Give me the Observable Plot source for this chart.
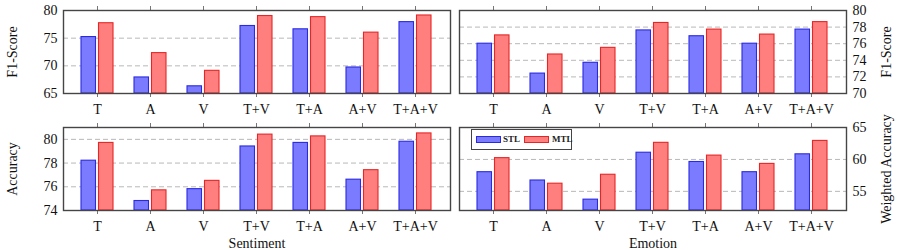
<!DOCTYPE html>
<html>
<head>
<meta charset="utf-8">
<script src="https://cdn.jsdelivr.net/npm/d3@7"></script>
<script src="https://cdn.jsdelivr.net/npm/@observablehq/plot@0.6"></script>
<style>
  html, body { margin: 0; padding: 0; background: #fff; }
  #wrap { position: relative; width: 899px; height: 250px; font-family: "Liberation Serif", "DejaVu Serif", serif; }
  #wrap svg { position: absolute; background: transparent !important; overflow: visible; }
  .legend { position: absolute; left: 471px; top: 129px; width: 101px; height: 21px; border: 1.3px solid #444; background: #fff; box-sizing: border-box; font-size: 9px; font-weight: bold; color: #222; }
  .legend .sw { position: absolute; top: 6px; width: 25px; height: 7px; box-sizing: border-box; }
  .legend .lb { position: absolute; top: 4px; }
</style>
</head>
<body>
<div id="wrap"></div>
<script>
const categories = ["T", "A", "V", "T+V", "T+A", "A+V", "T+A+V"];
const series = ["STL", "MTL"];

// Sentiment F1-Score
const sentF1STL = [75.2, 67.9, 66.3, 77.2, 76.6, 69.7, 77.9];
const sentF1MTL = [77.7, 72.3, 69.1, 79.0, 78.8, 76.0, 79.1];
// Emotion F1-Score
const emoF1STL = [76.0, 72.4, 73.7, 77.6, 76.9, 76.0, 77.7];
const emoF1MTL = [77.0, 74.7, 75.5, 78.5, 77.7, 77.1, 78.6];
// Sentiment Accuracy
const sentAccSTL = [78.2, 74.8, 75.8, 79.4, 79.7, 76.6, 79.8];
const sentAccMTL = [79.7, 75.7, 76.5, 80.4, 80.25, 77.4, 80.5];
// Emotion Weighted Accuracy
const emoWAccSTL = [58.0, 56.7, 53.7, 61.05, 59.6, 58.0, 60.8];
const emoWAccMTL = [60.2, 56.2, 57.6, 62.6, 60.6, 59.3, 62.9];

// tick labels
const sentF1Ticks = [65, 70, 75, 80];
const emoF1Ticks = [70, 72, 74, 76, 78, 80];
const sentAccTicks = [74, 76, 78, 80];
const emoWAccTicks = [55, 60, 65];

const colors = {STL: {fill: "#7b7bff", stroke: "#2a2ae0"}, MTL: {fill: "#ff7f7f", stroke: "#e52626"}};

function rows(stl, mtl) {
  return categories.flatMap((c, i) => [
    {cat: c, series: "STL", value: stl[i]},
    {cat: c, series: "MTL", value: mtl[i]}
  ]);
}

const FONT = "Liberation Serif, DejaVu Serif, serif";

function panel({stl, mtl, domain, ticks, side, ylabel, xlabel, left, top, width, height, mt, mb, ml, mr}) {
  const data = rows(stl, mtl);
  const innerW = width - ml - mr;
  const pi = 0.2, po = 0.2;
  const step = innerW / (categories.length - pi + 2 * po);
  const bw = step * (1 - pi);
  const half = bw / 2;
  const barW = 15.5, gap = 1;
  const gridTicks = ticks.filter(t => t > domain[0] && t < domain[1]);
  const marks = [
    Plot.gridY(gridTicks, {stroke: "#b0b0b0", strokeOpacity: 1, strokeDasharray: "5,3", strokeWidth: 0.9}),
    Plot.barY(data.filter(d => d.series === "STL"), {
      x: "cat", y1: () => domain[0], y2: "value",
      fill: colors.STL.fill, stroke: colors.STL.stroke, strokeWidth: 1.1,
      insetLeft: half - gap - barW, insetRight: half + gap
    }),
    Plot.barY(data.filter(d => d.series === "MTL"), {
      x: "cat", y1: () => domain[0], y2: "value",
      fill: colors.MTL.fill, stroke: colors.MTL.stroke, strokeWidth: 1.1,
      insetLeft: half + gap, insetRight: half - gap - barW
    }),
    Plot.axisX({anchor: "bottom", tickSize: 4, tickPadding: 7, stroke: "#777", fontSize: 14, label: xlabel ?? null, labelAnchor: "center", labelOffset: 37, labelArrow: "none"}),
    Plot.axisX({anchor: "top", tickSize: 5, stroke: "#777", tickFormat: null, label: null}),
    Plot.axisY(ticks, {anchor: side, tickSize: 0, tickPadding: 6, fontSize: 14, label: ylabel, labelAnchor: "center", labelOffset: side === "left" ? 56 : 44, labelArrow: "none"}),
    Plot.frame({stroke: "#454545", strokeWidth: 1.4})
  ];
  const svg = Plot.plot({
    width, height,
    marginTop: mt, marginBottom: mb, marginLeft: ml, marginRight: mr,
    style: {fontFamily: FONT, fontSize: "14px", color: "#111", background: "transparent", overflow: "visible"},
    x: {type: "band", domain: categories, paddingInner: pi, paddingOuter: po, align: 0.5},
    y: {domain, clamp: false},
    marks
  });
  svg.style.left = left + "px";
  svg.style.top = top + "px";
  return svg;
}

const wrap = document.getElementById("wrap");

wrap.appendChild(panel({stl: sentF1STL, mtl: sentF1MTL, domain: [65, 80], ticks: sentF1Ticks, side: "left", ylabel: "F1-Score",
  left: 0, top: 0, width: 455, height: 125, mt: 10, mb: 32, ml: 63, mr: 5}));
wrap.appendChild(panel({stl: emoF1STL, mtl: emoF1MTL, domain: [70, 80], ticks: emoF1Ticks, side: "right", ylabel: "F1-Score",
  left: 455, top: 0, width: 444, height: 125, mt: 10, mb: 32, ml: 4, mr: 53}));
wrap.appendChild(panel({stl: sentAccSTL, mtl: sentAccMTL, domain: [74, 81], ticks: sentAccTicks, side: "left", ylabel: "Accuracy", xlabel: "Sentiment",
  left: 0, top: 120, width: 455, height: 130, mt: 7, mb: 40, ml: 63, mr: 5}));
wrap.appendChild(panel({stl: emoWAccSTL, mtl: emoWAccMTL, domain: [52, 65], ticks: emoWAccTicks, side: "right", ylabel: "Weighted Accuracy", xlabel: "Emotion",
  left: 455, top: 120, width: 444, height: 130, mt: 7, mb: 40, ml: 4, mr: 53}));

// Legend
const lg = document.createElement("div");
lg.className = "legend";
const items = [{s: series[0], sx: 4, lx: 31}, {s: series[1], sx: 52, lx: 80}];
items.forEach(it => {
  const sw = document.createElement("div");
  sw.className = "sw";
  sw.style.left = it.sx + "px";
  sw.style.background = colors[it.s].fill;
  sw.style.border = "1.2px solid " + colors[it.s].stroke;
  lg.appendChild(sw);
  const lb = document.createElement("div");
  lb.className = "lb";
  lb.style.left = it.lx + "px";
  lb.textContent = it.s;
  lg.appendChild(lb);
});
wrap.appendChild(lg);
</script>
</body>
</html>
